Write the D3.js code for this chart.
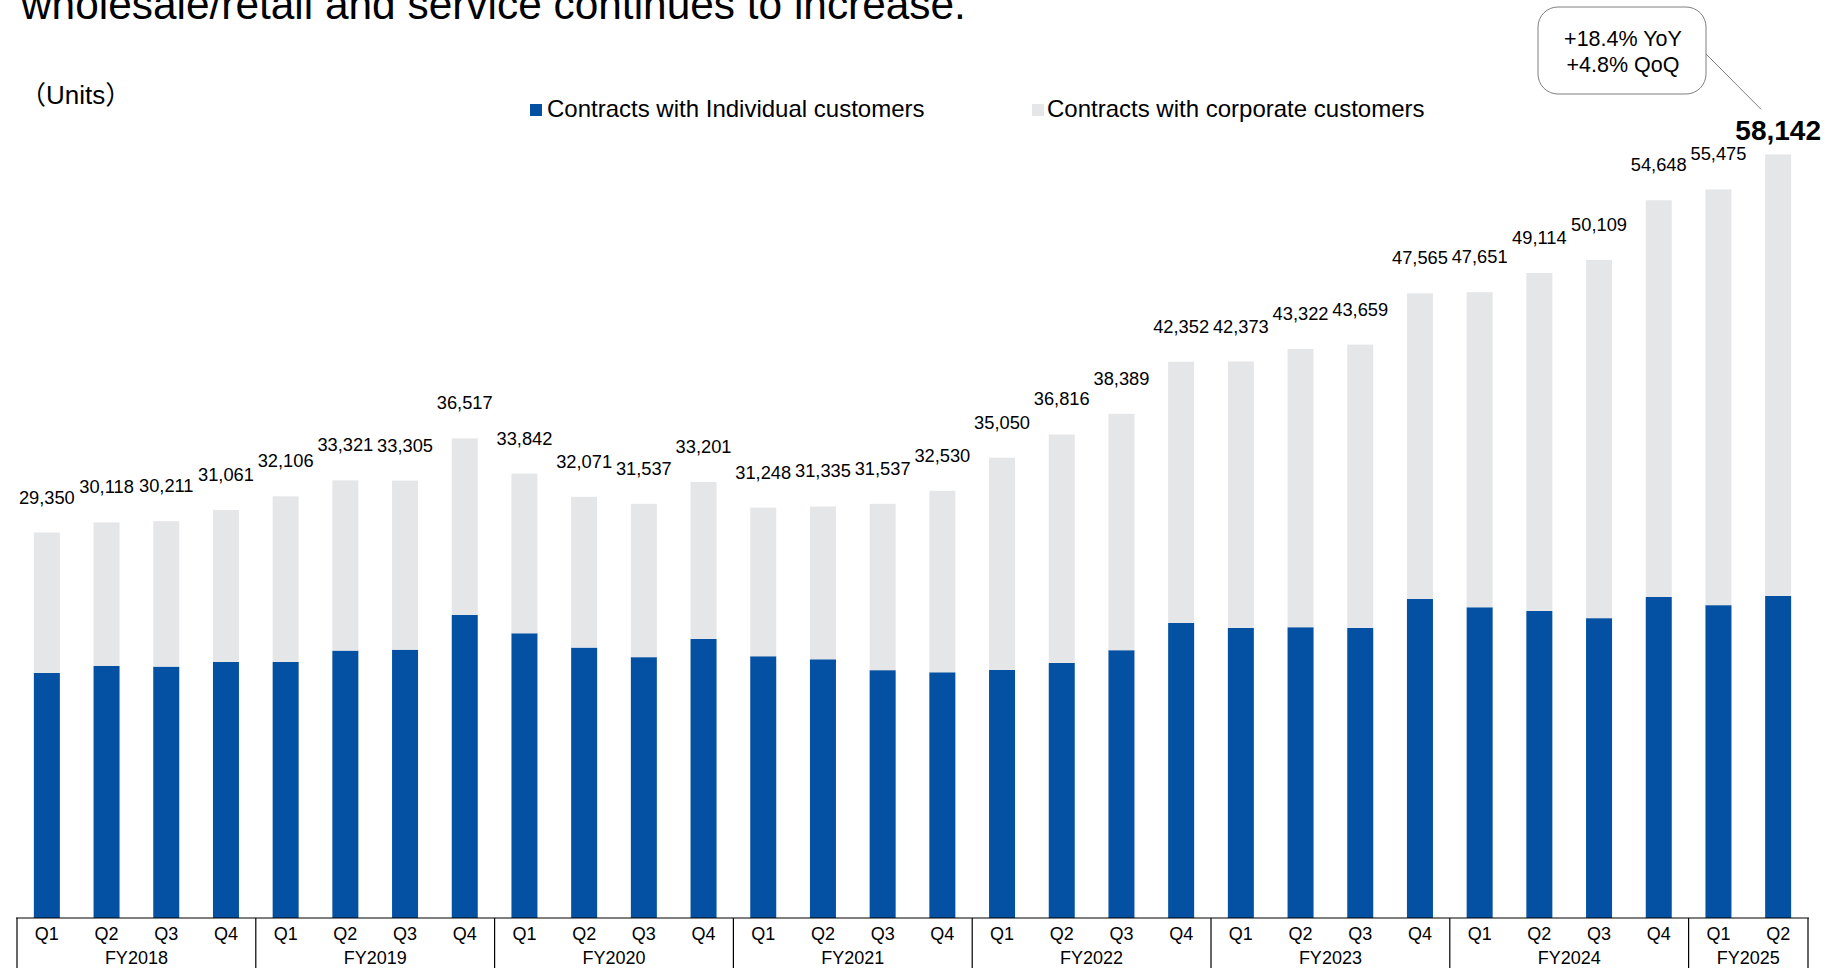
<!DOCTYPE html>
<html>
<head>
<meta charset="utf-8">
<script src="https://cdn.jsdelivr.net/npm/d3@7"></script>
<style>
  html, body { margin: 0; padding: 0; background: #ffffff; }
  svg { display: block; }
  text { font-family: "Liberation Sans", Arial, "Noto Sans CJK JP", sans-serif; fill: #000; }
</style>
</head>
<body>
<svg id="chart" width="1837" height="968"></svg>
<script>
// ---------- data ----------
const quarterLabels = ["Q1","Q2","Q3","Q4","Q1","Q2","Q3","Q4","Q1","Q2","Q3","Q4","Q1","Q2","Q3","Q4",
                       "Q1","Q2","Q3","Q4","Q1","Q2","Q3","Q4","Q1","Q2","Q3","Q4","Q1","Q2"];
const fiscalYears = ["FY2018","FY2019","FY2020","FY2021","FY2022","FY2023","FY2024","FY2025"];
const quartersPerYear = [4, 4, 4, 4, 4, 4, 4, 2];
const totalUnits = [29350, 30118, 30211, 31061, 32106, 33321, 33305, 36517, 33842, 32071, 31537, 33201,
                    31248, 31335, 31537, 32530, 35050, 36816, 38389, 42352, 42373, 43322, 43659, 47565,
                    47651, 49114, 50109, 54648, 55475, 58142];
const individualUnits = [18660, 19190, 19140, 19500, 19500, 20360, 20430, 23080, 21680, 20590, 19860, 21250,
                         19930, 19700, 18870, 18710, 18890, 19420, 20390, 22470, 22090, 22140, 22090, 24300,
                         23660, 23380, 22830, 24450, 23820, 24520];
const corporateUnits = [10690, 10928, 11071, 11561, 12606, 12961, 12875, 13437, 12162, 11481, 11677, 11951,
                        11318, 11635, 12667, 13820, 16160, 17396, 17999, 19882, 20283, 21182, 21569, 23265,
                        23991, 25734, 27279, 30198, 31655, 33622];
const seriesNames = ["Contracts with Individual customers", "Contracts with corporate customers"];
const calloutLines = ["+18.4% YoY", "+4.8% QoQ"];
const titleLine = "wholesale/retail and service continues to increase.";
const unitsLabel = "（Units）";

// ---------- layout ----------
const svg = d3.select("#chart");
const colors = ["#0450A3", "#E5E6E8"];
const baseY = 918;

const idx = d3.range(totalUnits.length);
const rows = idx.map(i => ({ i, individual: individualUnits[i], corporate: corporateUnits[i], total: totalUnits[i] }));

const x = d3.scaleBand().domain(idx).range([17, 1808]).paddingInner(0.5645).paddingOuter(0.28225);
const y = d3.scaleLinear().domain([0, 60000]).range([baseY, 130]);
const step = x.step();
const slotLeft = i => x(i) - step * x.paddingInner() / 2;

// title (second line, partially cropped at top)
svg.append("text").attr("x", 21).attr("y", 19).attr("font-size", 42.4).text(titleLine);

// units
svg.append("text").attr("x", 20).attr("y", 104).attr("font-size", 26).text(unitsLabel);

// legend
const legendPos = [{ sx: 530, tx: 547 }, { sx: 1032, tx: 1047 }];
seriesNames.forEach((name, k) => {
  svg.append("rect").attr("x", legendPos[k].sx).attr("y", 104).attr("width", 12).attr("height", 12).attr("fill", colors[k]);
  svg.append("text").attr("x", legendPos[k].tx).attr("y", 117).attr("font-size", 24).text(name);
});

// stacked bars
const stack = d3.stack().keys(["individual", "corporate"]);
const layers = stack(rows);
svg.append("g").selectAll("g").data(layers).join("g")
  .attr("fill", (d, k) => colors[k])
  .selectAll("rect").data(d => d).join("rect")
  .attr("x", d => x(d.data.i))
  .attr("width", x.bandwidth())
  .attr("y", d => y(d[1]))
  .attr("height", d => y(d[0]) - y(d[1]));

// total labels
const lastI = totalUnits.length - 1;
svg.append("g").selectAll("text").data(rows).join("text")
  .attr("x", d => x(d.i) + x.bandwidth() / 2)
  .attr("y", d => d.i === lastI ? y(d.total) - 14 : y(d.total) - 29)
  .attr("text-anchor", "middle")
  .attr("font-size", d => d.i === lastI ? 28 : 18.3)
  .attr("font-weight", d => d.i === lastI ? "bold" : "normal")
  .text(d => d3.format(",")(d.total));

// category axis
const axis = svg.append("g");
axis.append("line").attr("x1", 16).attr("x2", 1809).attr("y1", baseY).attr("y2", baseY)
  .attr("stroke", "#000").attr("stroke-width", 1.2);
axis.selectAll("text.q").data(rows).join("text").attr("class", "q")
  .attr("x", d => x(d.i) + x.bandwidth() / 2).attr("y", 940)
  .attr("text-anchor", "middle").attr("font-size", 18)
  .text(d => quarterLabels[d.i]);

// year groups
let start = 0;
const groups = fiscalYears.map((fy, g) => {
  const s = start; start += quartersPerYear[g];
  return { fy, s, e: start - 1 };
});
const groupLeft = g => slotLeft(g.s);
const groupRight = g => slotLeft(g.e) + step;
axis.selectAll("line.sep").data([groups[0].s].concat(groups.map(g => g.e))).join("line").attr("class", "sep")
  .attr("x1", (d, k) => k === 0 ? groupLeft(groups[0]) : groupRight(groups[k - 1]))
  .attr("x2", (d, k) => k === 0 ? groupLeft(groups[0]) : groupRight(groups[k - 1]))
  .attr("y1", baseY).attr("y2", 968).attr("stroke", "#000").attr("stroke-width", 1.2);
axis.selectAll("text.fy").data(groups).join("text").attr("class", "fy")
  .attr("x", g => (groupLeft(g) + groupRight(g)) / 2).attr("y", 964)
  .attr("text-anchor", "middle").attr("font-size", 18)
  .text(g => g.fy);

// callout
const cx = x(lastI) + x.bandwidth() / 2;
const labelTop = y(totalUnits[lastI]) - 45;
const call = svg.append("g");
call.append("line").attr("x1", 1705).attr("y1", 53).attr("x2", cx - 17).attr("y2", labelTop)
  .attr("stroke", "#7f7f7f").attr("stroke-width", 1);
call.append("rect").attr("x", 1538).attr("y", 7).attr("width", 168).attr("height", 87)
  .attr("rx", 20).attr("ry", 20).attr("fill", "#fff").attr("stroke", "#7f7f7f").attr("stroke-width", 1);
calloutLines.forEach((t, k) => {
  call.append("text").attr("x", 1623).attr("y", 46 + k * 26).attr("text-anchor", "middle")
    .attr("font-size", 21.5).text(t);
});
</script>
</body>
</html>
